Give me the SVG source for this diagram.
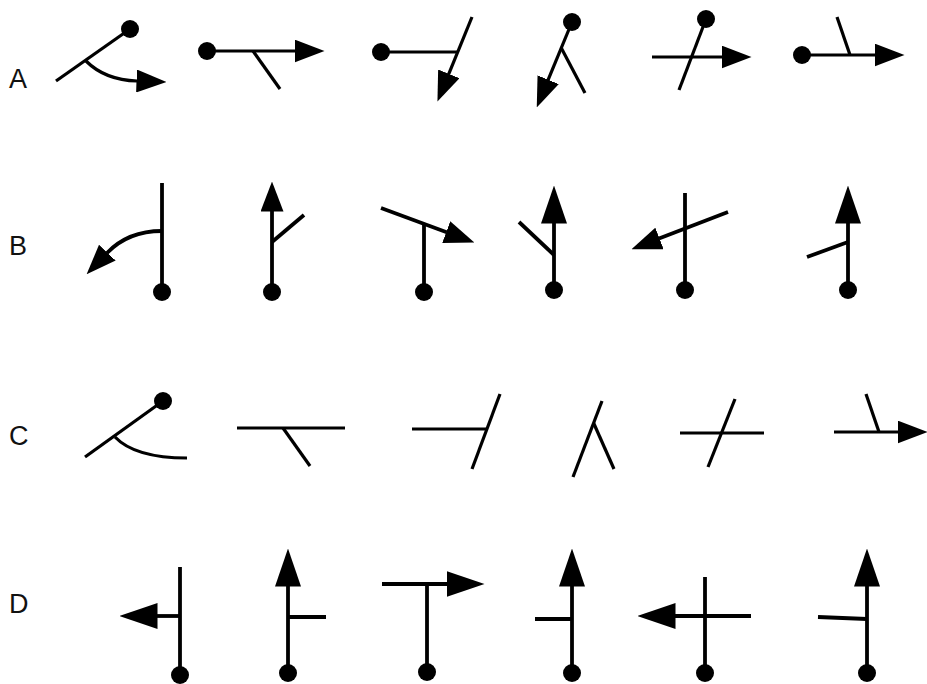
<svg xmlns="http://www.w3.org/2000/svg" width="927" height="684" viewBox="0 0 927 684">
<style>
.ln{fill:none;stroke:#000;stroke-width:3.2;stroke-linecap:butt}
.th{stroke-width:3.8}
.dot{fill:#000}
.lbl{font-family:"Liberation Sans",Arial,sans-serif;font-size:27px;fill:#111}
</style>
<defs>
<marker id="s" markerUnits="userSpaceOnUse" markerWidth="30" markerHeight="23" viewBox="0 0 30 23" refX="0.5" refY="11.5" orient="auto"><path d="M0,0 L30,11.5 L0,23 z"/></marker>
<marker id="l" markerUnits="userSpaceOnUse" markerWidth="38" markerHeight="26" viewBox="0 0 38 26" refX="0.5" refY="13" orient="auto"><path d="M0,0 L38,13 L0,26 z"/></marker>
</defs>
<rect width="927" height="684" fill="#fff"/>
<g id="labels">
<text class="lbl" x="9" y="88">A</text>
<text class="lbl" x="9" y="255">B</text>
<text class="lbl" x="9" y="445">C</text>
<text class="lbl" x="9" y="613">D</text>
</g>
<g id="connectors">
<g id="A1"><path class="ln" d="M56,81 L130,29"/><path class="ln" d="M86,61 Q105,80 137,81" marker-end="url(#s)"/><circle class="dot" cx="130" cy="29" r="9"/></g>
<g id="A2"><path class="ln" d="M207,51 H295" marker-end="url(#s)"/><path class="ln" d="M253,51 L280,89"/><circle class="dot" cx="207" cy="51" r="9"/></g>
<g id="A3"><path class="ln" d="M381,52 H457"/><path class="ln" d="M472,17 L448.6,74.3" marker-end="url(#s)"/><circle class="dot" cx="381" cy="52" r="9"/></g>
<g id="A4"><path class="ln" d="M572,22 L548,80.2" marker-end="url(#s)"/><path class="ln" d="M561.3,48 L585,93"/><circle class="dot" cx="572" cy="22" r="9"/></g>
<g id="A5"><path class="ln" d="M706,19 L679,90"/><path class="ln" d="M652,57 H722" marker-end="url(#s)"/><circle class="dot" cx="706" cy="19" r="9"/></g>
<g id="A6"><path class="ln" d="M802,55 H875" marker-end="url(#s)"/><path class="ln" d="M837,17 L850,55"/><circle class="dot" cx="802" cy="55" r="9"/></g>
<g id="B1"><path class="ln th" d="M162,183 V292"/><path class="ln th" d="M162,231 Q128,231 107,253" marker-end="url(#s)"/><circle class="dot" cx="162" cy="292" r="9"/></g>
<g id="B2"><path class="ln th" d="M272,292 V211" marker-end="url(#s)"/><path class="ln th" d="M272,242 L304,215"/><circle class="dot" cx="272" cy="292" r="9"/></g>
<g id="B3"><path class="ln th" d="M424,224 V292"/><path class="ln th" d="M381,208 L446.7,232.3" marker-end="url(#s)"/><circle class="dot" cx="424" cy="292" r="9"/></g>
<g id="B4"><path class="ln th" d="M554,290 V223" marker-end="url(#l)"/><path class="ln th" d="M519,222 L554,255"/><circle class="dot" cx="554" cy="290" r="9"/></g>
<g id="B5"><path class="ln th" d="M685,193 V290"/><path class="ln th" d="M728,212 L659,238.6" marker-end="url(#s)"/><circle class="dot" cx="685" cy="290" r="9"/></g>
<g id="B6"><path class="ln th" d="M848,290 V223" marker-end="url(#l)"/><path class="ln th" d="M807,257 L848,242"/><circle class="dot" cx="848" cy="290" r="9"/></g>
<g id="C1"><path class="ln" d="M85,457 L163,401"/><path class="ln" d="M115,437 Q135,458 187,458"/><circle class="dot" cx="163" cy="401" r="9"/></g>
<g id="C2"><path class="ln" d="M237,428 H345"/><path class="ln" d="M283,428 L310,466"/></g>
<g id="C3"><path class="ln" d="M412,429 H487"/><path class="ln" d="M500,394 L472,469"/></g>
<g id="C4"><path class="ln" d="M602,401 L573,477"/><path class="ln" d="M593.6,423 L614,469"/></g>
<g id="C5"><path class="ln" d="M680,433 H764"/><path class="ln" d="M735,399 L708,467"/></g>
<g id="C6"><path class="ln" d="M834,432 H898" marker-end="url(#s)"/><path class="ln" d="M866,394 L879,432"/></g>
<g id="D1"><path class="ln th" d="M180,567 V675"/><path class="ln th" d="M180,616 H157" marker-end="url(#l)"/><circle class="dot" cx="180" cy="675" r="9"/></g>
<g id="D2"><path class="ln th" d="M288,673 V586" marker-end="url(#l)"/><path class="ln th" d="M288,617 H326"/><circle class="dot" cx="288" cy="673" r="9"/></g>
<g id="D3"><path class="ln th" d="M382,584 H447" marker-end="url(#l)"/><path class="ln th" d="M427,584 V672"/><circle class="dot" cx="427" cy="672" r="9"/></g>
<g id="D4"><path class="ln th" d="M572,673 V586" marker-end="url(#l)"/><path class="ln th" d="M535,619 H572"/><circle class="dot" cx="572" cy="673" r="9"/></g>
<g id="D5"><path class="ln th" d="M705,577 V673"/><path class="ln th" d="M751,616 H675" marker-end="url(#l)"/><circle class="dot" cx="705" cy="673" r="9"/></g>
<g id="D6"><path class="ln th" d="M867,673 V586" marker-end="url(#l)"/><path class="ln th" d="M818,617 L867,619"/><circle class="dot" cx="867" cy="673" r="9"/></g>
</g>
</svg>
